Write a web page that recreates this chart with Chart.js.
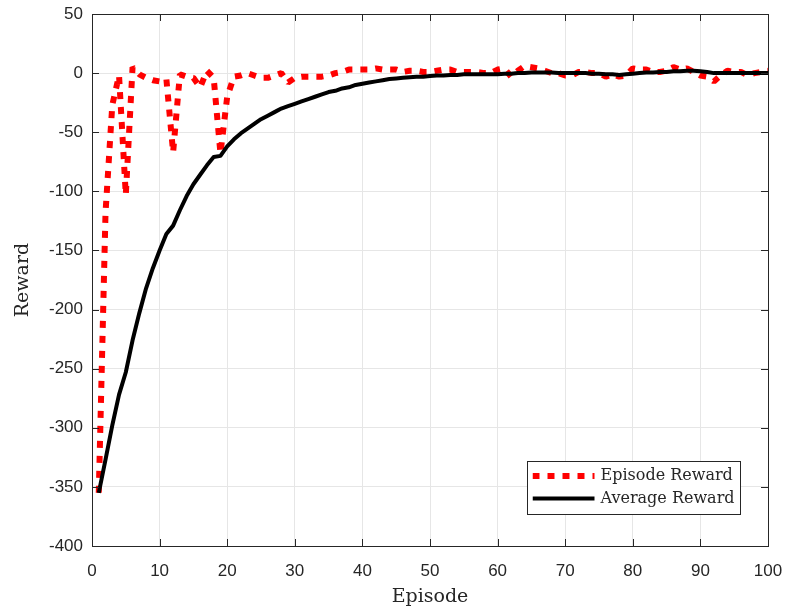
<!DOCTYPE html>
<html>
<head>
<meta charset="utf-8">
<script src="https://cdn.jsdelivr.net/npm/chart.js@4.4.1/dist/chart.umd.min.js"></script>
<style>
    html, body { margin: 0; padding: 0; background: #fff; }
    #wrap { position: relative; width: 787px; height: 612px; }
</style>
</head>
<body>
<div id="wrap"><canvas id="chart-recompensa" width="787" height="612"></canvas></div>
<script>
const episodios = [
    1, 2, 3, 4, 5, 6, 7, 8, 9, 10, 11, 12, 13, 14, 15, 16, 17, 18, 19, 20,
    21, 22, 23, 24, 25, 26, 27, 28, 29, 30, 31, 32, 33, 34, 35, 36, 37, 38, 39, 40,
    41, 42, 43, 44, 45, 46, 47, 48, 49, 50, 51, 52, 53, 54, 55, 56, 57, 58, 59, 60,
    61, 62, 63, 64, 65, 66, 67, 68, 69, 70, 71, 72, 73, 74, 75, 76, 77, 78, 79, 80,
    81, 82, 83, 84, 85, 86, 87, 88, 89, 90, 91, 92, 93, 94, 95, 96, 97, 98, 99, 100
];

const recompensaEpisodio = [
    -355, -118, -27, -2, -103, 5, -1, -4, -6, -7, -5, -67, -1, -3, -4, -12, 2, -4, -68, -20,
    -3, -2, 0, -2, -4, -4, -2, 0, -8, -4, -3, -3, -3, -3, -2, 0, 1, 3, 3, 3,
    3, 4, 3, 3, 3, 1, 2, 2, 1, 1, 2, 3, 3, 1, 1, 1, 1, 0, 0, 3,
    4, -3, 2, 6, 5, 4, 2, 0, 0, -2, -2, 1, 1, 0, 0, -3, -1, -3, -2, 4,
    3, 3, 1, 1, 2, 5, 3, 4, 1, -2, -3, -7, -2, 2, 1, 1, -2, 0, 1, 2
];

const recompensaPromedio = [
    -355, -327, -298, -272, -253, -226, -203, -182, -165, -150, -136, -129, -116, -104, -94, -86, -78, -71, -70, -62,
    -56, -51, -47, -43, -39, -36, -33, -30, -28, -26, -24, -22, -20, -18, -16, -15, -13, -12, -10, -9,
    -8, -7, -6, -5, -4.5, -4, -3.5, -3, -3, -2.5, -2, -2, -1.5, -1.5, -1, -1, -1, -1, -1, -1,
    -0.5, -0.5, 0, 0, 0.5, 0.5, 0.5, 0.5, 0, 0, 0, 0, 0, -0.5, -0.5, -1, -1, -1.5, -1, -0.5,
    0, 0.5, 0.5, 1, 1, 1.5, 1.5, 2, 2, 1.5, 1, 0, 0, 0, 0, 0, 0, 0, 0, 0
];

const ticksX = [0, 10, 20, 30, 40, 50, 60, 70, 80, 90, 100];
const ticksY = [50, 0, -50, -100, -150, -200, -250, -300, -350, -400];

const etiquetasLeyenda = ['Episode Reward', 'Average Reward'];

const COLOR_EJE = '#262626';

// Marcas hacia dentro, caja del gráfico y leyenda al estilo MATLAB
const marcoPlugin = {
    id: 'marco',
    afterDatasetsDraw(chart) {
        const { ctx, chartArea: a, scales } = chart;
        const largo = 7;
        ctx.save();
        ctx.strokeStyle = COLOR_EJE;
        ctx.lineWidth = 1;
        ctx.beginPath();
        ticksX.forEach(v => {
            const x = Math.round(scales.x.getPixelForValue(v)) + 0.5;
            ctx.moveTo(x, a.bottom); ctx.lineTo(x, a.bottom - largo);
            ctx.moveTo(x, a.top); ctx.lineTo(x, a.top + largo);
        });
        ticksY.forEach(v => {
            const y = Math.round(scales.y.getPixelForValue(v)) + 0.5;
            ctx.moveTo(a.left, y); ctx.lineTo(a.left + largo, y);
            ctx.moveTo(a.right, y); ctx.lineTo(a.right - largo, y);
        });
        ctx.stroke();
        ctx.strokeRect(Math.round(a.left) + 0.5, Math.round(a.top) + 0.5,
            Math.round(a.right - a.left), Math.round(a.bottom - a.top));

        // leyenda
        const bx = 527.5, by = 461.5, bw = 213, bh = 53;
        ctx.fillStyle = '#fff';
        ctx.fillRect(bx, by, bw, bh);
        ctx.strokeRect(bx, by, bw, bh);

        const estilos = [
            { color: '#ff0000', ancho: 6, dash: [7, 8] },
            { color: '#000000', ancho: 4, dash: [] }
        ];
        ctx.font = '16px "DejaVu Serif", "Liberation Serif", serif';
        ctx.textBaseline = 'middle';
        etiquetasLeyenda.forEach((txt, i) => {
            const y = by + 14.5 + i * 22.5;
            ctx.save();
            ctx.beginPath();
            ctx.rect(bx + 5, y - 5, 62, 10);
            ctx.clip();
            ctx.beginPath();
            ctx.strokeStyle = estilos[i].color;
            ctx.lineWidth = estilos[i].ancho;
            ctx.setLineDash(estilos[i].dash);
            ctx.moveTo(bx + 5, y); ctx.lineTo(bx + 68, y);
            ctx.stroke();
            ctx.restore();
            ctx.fillStyle = COLOR_EJE;
            ctx.fillText(txt, bx + 73, y);
        });
        ctx.restore();
    }
};

function crearGrafico() {
    const ctx = document.getElementById('chart-recompensa').getContext('2d');

    new Chart(ctx, {
        type: 'line',
        data: {
            datasets: [
                {
                    label: etiquetasLeyenda[0],
                    data: episodios.map((e, i) => ({ x: e, y: recompensaEpisodio[i] })),
                    borderColor: '#ff0000',
                    borderWidth: 6,
                    borderDash: [7, 8],
                    borderJoinStyle: 'bevel',
                    pointRadius: 0,
                    tension: 0,
                    order: 2
                },
                {
                    label: etiquetasLeyenda[1],
                    data: episodios.map((e, i) => ({ x: e, y: recompensaPromedio[i] })),
                    borderColor: '#000000',
                    borderWidth: 4,
                    borderJoinStyle: 'round',
                    pointRadius: 0,
                    tension: 0,
                    order: 1
                }
            ]
        },
        options: {
            responsive: false,
            animation: false,
            layout: { padding: { top: 14, right: 19, left: 0, bottom: 0 } },
            plugins: { legend: { display: false }, tooltip: { enabled: false } },
            scales: {
                x: {
                    type: 'linear',
                    min: 0,
                    max: 100,
                    afterBuildTicks: s => { s.ticks = ticksX.map(v => ({ value: v })); },
                    afterFit: s => { s.height = 66; s.paddingLeft = 0; s.paddingRight = 0; },
                    grid: { color: '#e6e6e6', drawTicks: false },
                    border: { display: false },
                    ticks: {
                        color: COLOR_EJE,
                        padding: 15,
                        maxRotation: 0,
                        font: { family: '"Liberation Sans", Arial, sans-serif', size: 17 }
                    },
                    title: {
                        display: true,
                        text: 'Episode',
                        color: COLOR_EJE,
                        padding: { top: 0, bottom: 4 },
                        font: { family: '"DejaVu Serif", "Liberation Serif", serif', size: 19 }
                    }
                },
                y: {
                    min: -400,
                    max: 50,
                    afterBuildTicks: s => { s.ticks = ticksY.map(v => ({ value: v })); },
                    afterFit: s => { s.width = 92; s.paddingTop = 0; s.paddingBottom = 0; },
                    grid: { color: '#e6e6e6', drawTicks: false },
                    border: { display: false },
                    ticks: {
                        color: COLOR_EJE,
                        padding: 9,
                        font: { family: '"Liberation Sans", Arial, sans-serif', size: 17 }
                    },
                    title: {
                        display: true,
                        text: 'Reward',
                        color: COLOR_EJE,
                        padding: { top: 12, bottom: 0 },
                        font: { family: '"DejaVu Serif", "Liberation Serif", serif', size: 19 }
                    }
                }
            }
        },
        plugins: [marcoPlugin]
    });
}

document.addEventListener('DOMContentLoaded', crearGrafico);
</script>
</body>
</html>
